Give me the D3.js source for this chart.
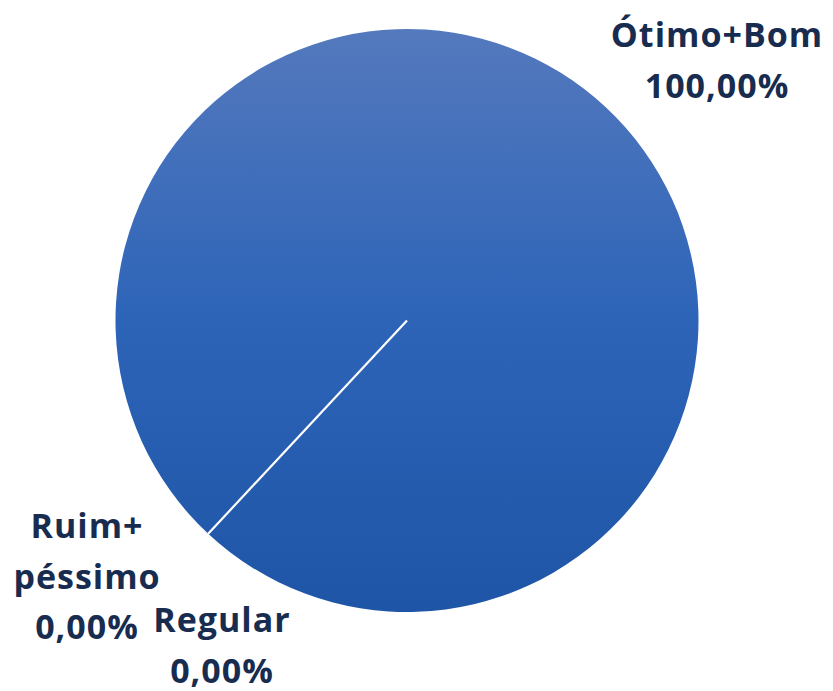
<!DOCTYPE html>
<html><head><meta charset="utf-8">
<script src="https://cdn.jsdelivr.net/npm/d3@7"></script>
<style>body{margin:0;background:#fff}svg{display:block}</style>
</head><body>
<svg id="c" width="833" height="691"></svg>
<script>
const categories = ["Ótimo+Bom", "Regular", "Ruim+\npéssimo"];
const values = [100, 0, 0];
const valueLabels = ["100,00%", "0,00%", "0,00%"];

const svg = d3.select("#c");
const cx = 407, cy = 320.5, r = 291.5;
const start = 223 * Math.PI / 180;

const defs = svg.append("defs");
const g0 = defs.append("linearGradient").attr("id", "grad")
  .attr("gradientUnits", "userSpaceOnUse")
  .attr("x1", 0).attr("y1", -r).attr("x2", 0).attr("y2", r);
g0.append("stop").attr("offset", "0%").attr("stop-color", "#5479bd");
g0.append("stop").attr("offset", "50%").attr("stop-color", "#2d64b8");
g0.append("stop").attr("offset", "100%").attr("stop-color", "#1f55a6");

const pie = d3.pie().sort(null).startAngle(start).endAngle(start + 2 * Math.PI);
const arcs = pie(values);
const arc = d3.arc().innerRadius(0).outerRadius(r);

const gp = svg.append("g").attr("transform", `translate(${cx},${cy})`);
gp.selectAll("path").data(arcs).enter().append("path")
  .attr("d", arc)
  .attr("fill", "url(#grad)")
  .attr("stroke", "none");

const bounds = [arcs[0].startAngle];
gp.selectAll("line.b").data(bounds).enter().append("line")
  .attr("x1", 0).attr("y1", 0)
  .attr("x2", a => r * Math.sin(a)).attr("y2", a => -r * Math.cos(a))
  .attr("stroke", "#fff").attr("stroke-width", 2.2);

const labelPos = [
  {x: 717, y: 47},
  {x: 222, y: 632},
  {x: 87, y: 538}
];
const font = "'Open Sans', Lato, sans-serif";
categories.forEach((c, i) => {
  const lines = c.split("\n").concat([valueLabels[i]]);
  const t = svg.append("text")
    .attr("text-anchor", "middle")
    .attr("font-family", font)
    .attr("font-weight", "bold")
    .attr("font-size", 34)
    .attr("letter-spacing", 1)
    .attr("fill", "#182c50")
    .style("font-variant-ligatures", "none");
  lines.forEach((l, j) => {
    t.append("tspan").attr("x", labelPos[i].x).attr("y", labelPos[i].y + j * 50.5).text(l);
  });
});
</script>
</body></html>
